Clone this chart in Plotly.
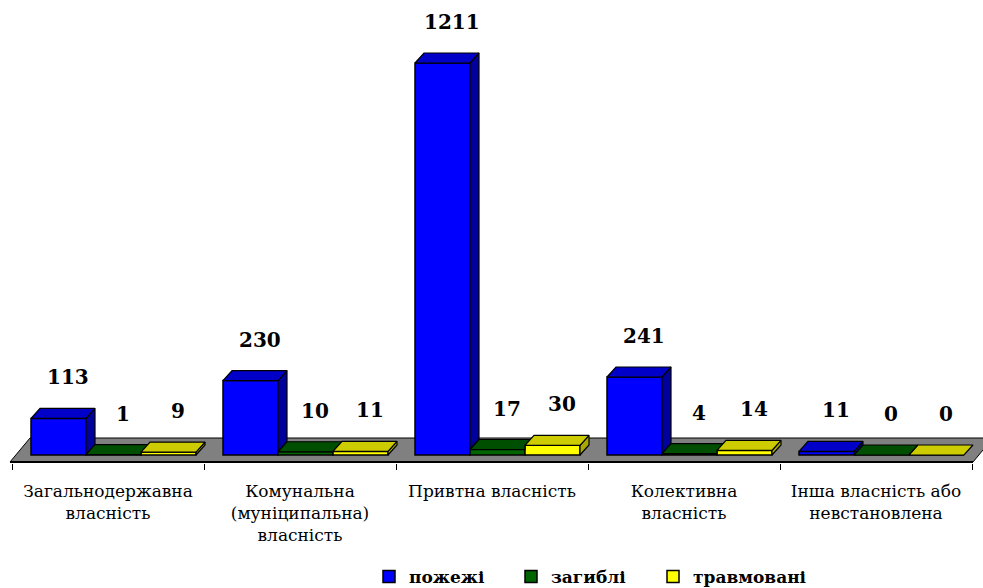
import plotly.graph_objects as go

# ---------------- data ----------------
categories = [
    "Загальнодержавна<br>власність",
    "Комунальна<br>(муніципальна)<br>власність",
    "Привтна власність",
    "Колективна<br>власність",
    "Інша власність або<br>невстановлена",
]
series_names = ["пожежі", "загиблі", "травмовані"]
fires = [113, 230, 1211, 241, 11]
deaths = [1, 10, 17, 4, 0]
injured = [9, 11, 30, 14, 0]

# ---------------- style ----------------
W, H = 983, 588
front_colors = ["#0000FF", "#006400", "#FFFF00"]
top_colors = ["#0000C8", "#004E00", "#CCCC00"]
side_colors = ["#00009C", "#003A00", "#A8A800"]
FONT = "DejaVu Serif, serif"

CAT_PX = 192.0                 # pixels per category
PXU = 0.3237                   # pixels per value unit
BAR_W = 55 / CAT_PX
OFFSETS = [-77 / CAT_PX, -22 / CAT_PX, 33 / CAT_PX]
DX = 9 / CAT_PX                # 3-D depth, horizontal
DY = 10 / PXU                  # 3-D depth, vertical
X_RANGE = [-0.5 - 12 / CAT_PX, 4.5 + 11 / CAT_PX]
PLOT_BOTTOM = 463
Y_RANGE = [-8 / PXU, 455 / PXU]
X0 = X_RANGE[0]

series = [fires, deaths, injured]
idx = list(range(len(categories)))

fig = go.Figure()

for s, vals in enumerate(series):
    fig.add_trace(go.Bar(
        x=idx, y=vals, name=series_names[s],
        width=BAR_W, offset=OFFSETS[s],
        marker=dict(color=front_colors[s], line=dict(color="black", width=1.5)),
        hoverinfo="skip",
    ))
# empty, invisible legend spacer so the last legend label is not clipped
fig.add_trace(go.Bar(x=[None], y=[None], name="", showlegend=True,
                     marker=dict(color="rgba(0,0,0,0)", line=dict(width=0)),
                     hoverinfo="skip"))

for s, vals in enumerate(series):
    tx, ty, sx, sy = [], [], [], []
    for c in idx:
        v = vals[c]
        xl = c + OFFSETS[s]
        xr = xl + BAR_W
        vn = series[s + 1][c] if s < len(series) - 1 else None
        A = (xl, v); B = (xl + DX, v + DY); C = (xr + DX, v + DY); D = (xr, v)
        if vn is None or vn <= v:
            poly = [A, B, C, D]
        elif vn >= v + DY:
            poly = [A, B, (xr, v + DY), D]
        else:
            F = (xr + (vn - v) / DY * DX, vn)
            G = (xr, vn)
            poly = [A, B, C, F, G, D]
        for p in poly + [poly[0]]:
            tx.append(p[0]); ty.append(p[1])
        tx.append(None); ty.append(None)
        h0 = 0 if vn is None else max(vn, 0)
        if v > h0:
            side = [(xr, h0), (xr, v), (xr + DX, v + DY), (xr + DX, h0 + DY), (xr, h0)]
            for p in side:
                sx.append(p[0]); sy.append(p[1])
            sx.append(None); sy.append(None)
    if sx:
        fig.add_trace(go.Scatter(x=sx, y=sy, mode="lines", fill="toself",
                                 fillcolor=side_colors[s], line=dict(color="black", width=1.2),
                                 showlegend=False, hoverinfo="skip"))
    fig.add_trace(go.Scatter(x=tx, y=ty, mode="lines", fill="toself",
                             fillcolor=top_colors[s], line=dict(color="black", width=1.2),
                             showlegend=False, hoverinfo="skip"))

for s, vals in enumerate(series):
    for c in idx:
        fig.add_annotation(
            x=c + OFFSETS[s] + BAR_W / 2 + DX, y=vals[c], yshift=41,
            text=f"<b>{vals[c]}</b>", showarrow=False, xanchor="center", yanchor="middle",
            font=dict(family=FONT, size=20, color="black"),
        )

fl_front = -7 / PXU
fl_back = 17 / PXU
xfl, xbl = X0 + 10 / CAT_PX, X0 + 30 / CAT_PX
xfr, xbr = X0 + 973 / CAT_PX, X0 + 993 / CAT_PX
fig.add_shape(type="path", xref="x", yref="y", layer="below",
              path=f"M{xfl},{fl_front} L{xbl},{fl_back} L{xbr},{fl_back} L{xfr},{fl_front} Z",
              fillcolor="#808080", line=dict(color="black", width=1))
fig.add_shape(type="line", xref="x", yref="y", layer="below",
              x0=xfl, y0=fl_front, x1=xfr, y1=fl_front, line=dict(color="black", width=2))

fig.update_layout(
    width=W, height=H,
    margin=dict(l=0, r=0, t=0, b=H - PLOT_BOTTOM),
    paper_bgcolor="white", plot_bgcolor="white",
    barmode="overlay",
    showlegend=True,
    legend=dict(orientation="h", xref="container", yref="container",
                x=369 / W, xanchor="left", y=(H - 577) / H, yanchor="middle",
                font=dict(family=FONT, size=17, color="black", weight="bold"),
                entrywidth=97, entrywidthmode="pixels", itemwidth=30,
                bgcolor="rgba(0,0,0,0)"),
    xaxis=dict(range=X_RANGE, tickmode="array", tickvals=idx, ticktext=categories,
               ticks="", showgrid=False, zeroline=False, showline=False,
               tickfont=dict(family=FONT, size=17, color="black"),
               ticklabelstandoff=16,
               minor=dict(tickmode="array", tickvals=[c - 0.5 for c in idx] + [idx[-1] + 0.5],
                          ticks="outside", ticklen=6, tickcolor="black", tickwidth=1,
                          showgrid=False)),
    yaxis=dict(range=Y_RANGE, visible=False, showgrid=False, zeroline=False),
)

fig.write_html("out.html", config={"displayModeBar": False},
               post_script="document.body.style.margin='0';")
